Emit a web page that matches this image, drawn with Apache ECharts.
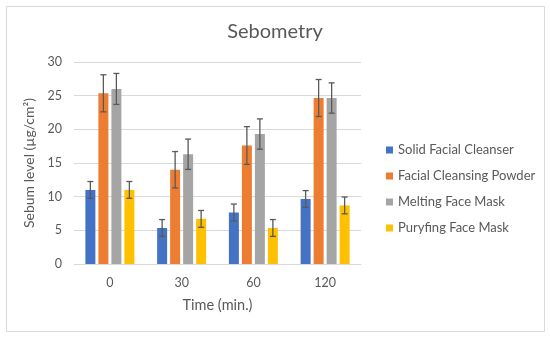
<!DOCTYPE html>
<html><head><meta charset="utf-8">
<script src="https://cdn.jsdelivr.net/npm/echarts@6/dist/echarts.min.js"></script>
<style>html,body{margin:0;padding:0;background:#fff}#c{width:550px;height:338px}</style>
</head><body><div id="c"></div>
<script>
const categories = ['0', '30', '60', '120'];
const seriesNames = ['Solid Facial Cleanser', 'Facial Cleansing Powder', 'Melting Face Mask', 'Puryfing Face Mask'];
const solidFacialCleanser = [11.0, 5.35, 7.65, 9.65];
const facialCleansingPowder = [25.35, 14.0, 17.6, 24.65];
const meltingFaceMask = [26.0, 16.3, 19.3, 24.65];
const puryfingFaceMask = [11.0, 6.7, 5.35, 8.7];
const solidFacialCleanserErr = [1.25, 1.25, 1.25, 1.25];
const facialCleansingPowderErr = [2.75, 2.7, 2.8, 2.75];
const meltingFaceMaskErr = [2.3, 2.25, 2.25, 2.25];
const puryfingFaceMaskErr = [1.25, 1.25, 1.25, 1.25];
const yTicks = [0, 5, 10, 15, 20, 25, 30];

const values = [solidFacialCleanser, facialCleansingPowder, meltingFaceMask, puryfingFaceMask];
const errors = [solidFacialCleanserErr, facialCleansingPowderErr, meltingFaceMaskErr, puryfingFaceMaskErr];
const colors = ['#4472C4', '#ED7D31', '#A5A5A5', '#FFC000'];
const BAR_W = 10, BAR_GAP = 3;
const font = 'Lato';

const chart = echarts.init(document.getElementById('c'), null, {renderer: 'canvas'});
const series = [];
values.forEach((v, i) => {
  series.push({
    name: seriesNames[i], type: 'bar', data: v, barWidth: BAR_W, barGap: '30%',
    itemStyle: {color: colors[i]}, z: 2
  });
});
values.forEach((v, i) => {
  const offset = (i - 1.5) * (BAR_W + BAR_GAP);
  series.push({
    type: 'custom', name: seriesNames[i] + ' err', z: 5, silent: true,
    data: v.map((val, k) => [k, val, errors[i][k]]),
    renderItem: function (params, api) {
      const k = api.value(0), val = api.value(1), e = api.value(2);
      const top = api.coord([k, val + e]);
      const bot = api.coord([k, val - e]);
      const x = top[0] + offset;
      const cw = 3;
      const st = {stroke: '#595959', lineWidth: 1.3};
      return {type: 'group', children: [
        {type: 'line', shape: {x1: x, y1: top[1], x2: x, y2: bot[1]}, style: st},
        {type: 'line', shape: {x1: x - cw, y1: top[1], x2: x + cw, y2: top[1]}, style: st},
        {type: 'line', shape: {x1: x - cw, y1: bot[1], x2: x + cw, y2: bot[1]}, style: st}
      ]};
    }
  });
});

chart.setOption({
  animation: false,
  textStyle: {fontFamily: font},
  title: {text: 'Sebometry', left: 'center', top: 17,
    textStyle: {fontFamily: font, fontSize: 20, fontWeight: 'normal', color: '#595959'}},
  graphic: [{type: 'rect', shape: {x: 6.5, y: 6.5, width: 538, height: 325},
    style: {fill: 'none', stroke: '#d9d9d9', lineWidth: 1}, silent: true}],
  legend: {
    orient: 'vertical', left: 386, top: 143, padding: 0, itemWidth: 7, itemHeight: 7, itemGap: 12,
    icon: 'rect', data: seriesNames,
    textStyle: {fontFamily: font, fontSize: 13, color: '#595959', lineHeight: 14}
  },
  grid: {left: 74, top: 62, width: 287, height: 202, containLabel: false},
  xAxis: {
    type: 'category', data: categories,
    name: 'Time (min.)', nameLocation: 'middle', nameGap: 34,
    nameTextStyle: {fontFamily: font, fontSize: 14.5, color: '#595959'},
    axisLine: {lineStyle: {color: '#d9d9d9'}}, axisTick: {show: false},
    axisLabel: {fontFamily: font, fontSize: 12.5, color: '#595959', margin: 12}
  },
  yAxis: {
    type: 'value', min: yTicks[0], max: yTicks[yTicks.length - 1], interval: 5,
    name: 'Sebum level (µg/cm²)', nameLocation: 'middle', nameGap: 29, nameRotate: 90,
    nameTextStyle: {fontFamily: font, fontSize: 14, color: '#595959'},
    axisLine: {show: false}, axisTick: {show: false},
    splitLine: {lineStyle: {color: '#d9d9d9'}},
    axisLabel: {fontFamily: font, fontSize: 12.5, color: '#595959', margin: 12}
  },
  series: series
});
</script></body></html>
